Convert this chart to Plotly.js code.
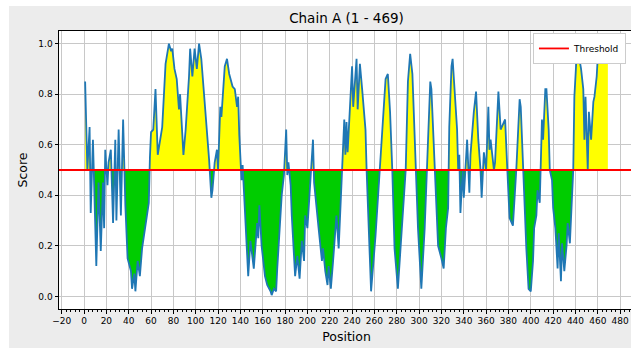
<!DOCTYPE html>
<html><head><meta charset="utf-8">
<script src="https://cdn.plot.ly/plotly-3.0.1.min.js"></script>
<style>html,body{margin:0;padding:0;background:#ffffff;overflow:hidden;width:631px;height:348px}
#chart{position:absolute;left:9px;top:6px;width:625px;height:342px}</style>
</head><body>
<div id="chart"></div>
<script>
const chartTitle = 'Chain A (1 - 469)';
const xLabel = 'Position';
const yLabel = 'Score';
const thresholdName = 'Threshold';
const threshold = 0.5;

const positions = [1,3,5,6,8,11,13,15,17,18,19,21,22,24,26,28,29,31,33,35,37,39,42,43,45,46,48,50,52,54,56,58,59,60,62,64,66,68,70,73,76,78,79,81,83,85,86,89,91,94,95,97,99,101,103,105,108,110,112,114,115,117,119,120,122,123,126,128,130,133,135,137,138,139,141,142,145,147,149,152,155,156,157,159,162,164,167,168,170,172,173,175,177,179,181,182,183,185,186,189,191,193,195,197,198,200,203,205,206,208,210,213,214,216,218,219,221,223,225,226,228,231,233,234,235,236,238,240,241,244,245,247,249,252,253,255,257,261,265,270,272,274,276,278,281,284,288,290,292,294,297,299,302,305,307,310,311,314,317,320,322,324,326,327,329,330,332,334,335,336,337,339,340,343,345,346,349,351,353,355,356,358,360,362,363,364,367,368,371,373,377,378,379,381,384,387,390,391,393,396,398,400,402,403,405,406,408,410,411,413,414,416,417,419,420,422,424,425,427,428,430,432,433,435,438,439,441,442,445,447,448,449,451,452,454,456,457,459,460,462,463,465,467,469];
const scores = [0.85,0.50,0.67,0.33,0.62,0.12,0.45,0.18,0.45,0.27,0.58,0.44,0.53,0.58,0.29,0.62,0.30,0.66,0.32,0.70,0.36,0.15,0.10,0.03,0.09,0.02,0.14,0.08,0.19,0.25,0.32,0.37,0.55,0.65,0.66,0.82,0.56,0.62,0.67,0.92,1.00,0.97,0.98,0.90,0.86,0.74,0.80,0.56,0.66,0.87,0.98,0.87,0.98,0.90,1.00,0.94,0.78,0.66,0.54,0.39,0.42,0.53,0.58,0.50,0.75,0.71,0.91,0.94,0.88,0.83,0.82,0.75,0.79,0.64,0.46,0.52,0.22,0.08,0.22,0.11,0.29,0.23,0.36,0.20,0.08,0.045,0.02,0.005,0.03,0.02,0.11,0.27,0.40,0.48,0.66,0.48,0.53,0.44,0.32,0.08,0.16,0.07,0.22,0.14,0.32,0.27,0.50,0.62,0.45,0.37,0.27,0.14,0.19,0.10,0.045,0.12,0.03,0.14,0.27,0.32,0.19,0.50,0.70,0.56,0.69,0.57,0.73,0.91,0.75,0.94,0.74,0.92,0.82,0.66,0.50,0.27,0.02,0.24,0.50,0.86,0.88,0.73,0.50,0.19,0.03,0.24,0.50,0.85,0.96,0.88,0.50,0.27,0.03,0.27,0.50,0.85,0.82,0.50,0.20,0.15,0.11,0.27,0.35,0.67,0.91,0.94,0.81,0.66,0.50,0.56,0.33,0.50,0.39,0.62,0.41,0.56,0.73,0.81,0.62,0.50,0.39,0.57,0.50,0.75,0.58,0.62,0.50,0.53,0.81,0.66,0.70,0.58,0.50,0.31,0.28,0.50,0.78,0.75,0.50,0.19,0.03,0.02,0.14,0.27,0.32,0.42,0.37,0.70,0.62,0.82,0.82,0.66,0.50,0.46,0.35,0.27,0.11,0.25,0.06,0.21,0.10,0.20,0.29,0.21,0.50,0.79,0.95,0.98,0.90,0.82,0.62,0.79,0.50,0.73,0.62,0.77,0.79,0.87,0.95,1.00,0.95,1.00,0.99,0.97];

const xRange = [-22.4, 492.4];
const yRange = [-0.05, 1.05];

// Build fill polygons between the score curve and the threshold
function buildFills() {
  const polys = [];
  let cur = null;
  for (let i = 0; i < positions.length; i++) {
    const above = scores[i] >= threshold;
    if (cur && cur.above !== above) {
      const x0 = positions[i-1], y0 = scores[i-1], x1 = positions[i], y1 = scores[i];
      const xc = x0 + (threshold - y0) * (x1 - x0) / (y1 - y0);
      cur.x.push(xc); cur.y.push(threshold);
      polys.push(cur);
      cur = {above: above, x: [xc], y: [threshold]};
    }
    if (!cur) cur = {above: above, x: [positions[i]], y: [threshold]};
    cur.x.push(positions[i]); cur.y.push(scores[i]);
  }
  cur.x.push(positions[positions.length-1]); cur.y.push(threshold);
  polys.push(cur);
  return polys;
}

const traces = buildFills().map(p => ({
  type: 'scatter', mode: 'lines', x: p.x, y: p.y, fill: 'toself',
  fillcolor: p.above ? '#ffff00' : '#00cc00', line: {width: 0},
  hoverinfo: 'skip', showlegend: false
}));
traces.push({type: 'scatter', mode: 'lines', x: positions, y: scores,
  line: {color: '#1f77b4', width: 1.8}, showlegend: false, name: yLabel});
traces.push({type: 'scatter', mode: 'lines', x: xRange, y: [threshold, threshold],
  line: {color: '#ff0000', width: 1.8}, name: thresholdName, showlegend: true});

const font = {family: 'DejaVu Sans', color: '#000000'};
const layout = {
  width: 625, height: 342,
  paper_bgcolor: '#ececec', plot_bgcolor: '#ffffff',
  margin: {l: 50, r: 0, t: 25, b: 39, pad: 0},
  font: Object.assign({size: 9}, font),
  title: {text: chartTitle, font: Object.assign({size: 13.5}, font),
    x: 0.5, xref: 'paper', xanchor: 'center', y: 1 - 12/342, yref: 'container', yanchor: 'middle'},
  xaxis: {range: xRange, tick0: 0, dtick: 20, ticks: 'outside', ticklen: 3.5, tickcolor: '#000',
    showline: true, linecolor: '#000', linewidth: 1, mirror: true,
    showgrid: true, gridcolor: '#c8c8c8', gridwidth: 1, zeroline: false,
    tickfont: Object.assign({size: 9}, font),
    minor: {dtick: 4, tick0: 0, ticks: 'outside', ticklen: 2, tickcolor: '#000', showgrid: false},
    title: {text: xLabel, font: Object.assign({size: 12.5}, font), standoff: 6}},
  yaxis: {range: yRange, tick0: 0, dtick: 0.2, tickformat: '.1f', ticks: 'outside', ticklen: 3.5, tickcolor: '#000',
    showline: true, linecolor: '#000', linewidth: 1, mirror: true,
    showgrid: true, gridcolor: '#c8c8c8', gridwidth: 1, zeroline: false,
    tickfont: Object.assign({size: 9}, font),
    title: {text: yLabel, font: Object.assign({size: 12.5}, font), standoff: 7}},
  legend: {x: 0.986, y: 0.993, xanchor: 'right', yanchor: 'top', bgcolor: '#ffffff',
    bordercolor: '#cccccc', borderwidth: 1, itemwidth: 30,
    font: Object.assign({size: 9}, font)},
  showlegend: true
};
Plotly.newPlot('chart', traces, layout, {staticPlot: true, displayModeBar: false});
</script>
</body></html>
